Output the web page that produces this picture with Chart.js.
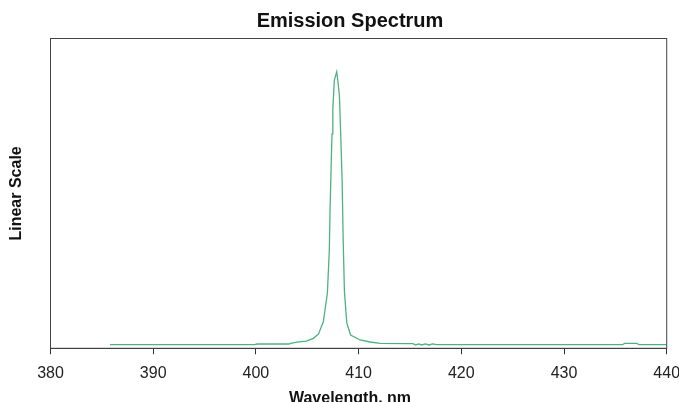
<!DOCTYPE html>
<html>
<head>
<meta charset="utf-8">
<script src="https://cdn.jsdelivr.net/npm/chart.js@4.4.1/dist/chart.umd.min.js"></script>
<style>
  html, body { margin: 0; padding: 0; background: #fff; overflow: hidden; }
  #wrap { width: 700px; height: 408px; }
</style>
</head>
<body>
<div id="wrap"><canvas id="spectrum" width="700" height="408"></canvas></div>
<script>
// wavelength (nm) and intensity
const wavelengths = [
  385.8, 399.9, 400.1, 403.2, 403.4, 404.0, 404.9, 405.6, 406.1, 406.57,
  406.96, 407.15, 407.22, 407.32, 407.41, 407.49, 407.64, 407.87, 407.97, 408.13,
  408.27, 408.4, 408.5, 408.62, 408.85, 409.22, 410.15, 411.12, 412.1, 415.0,
  415.3, 415.55, 415.85, 416.15, 416.5, 416.85, 417.2, 417.6, 435.7, 435.9,
  437.1, 437.3, 440.0
];
const intensities = [
  0.013, 0.013, 0.0155, 0.0155, 0.018, 0.022, 0.026, 0.036, 0.052, 0.097,
  0.200, 0.356, 0.500, 0.650, 0.775, 0.865, 0.970, 1.000, 0.970, 0.915,
  0.760, 0.600, 0.390, 0.205, 0.0915, 0.048, 0.030, 0.0228, 0.018, 0.0166,
  0.0166, 0.012, 0.016, 0.012, 0.016, 0.012, 0.016, 0.013, 0.013, 0.0175,
  0.0175, 0.013, 0.013
];
const xTicks = [380, 390, 400, 410, 420, 430, 440];

const points = wavelengths.map(function (w, i) {
    return { x: w, y: intensities[i] };
});

// box round the plot area
const frame = {
    id: 'frame',
    afterDatasetsDraw: function (chart) {
        const a = chart.chartArea;
        const ctx = chart.ctx;
        ctx.save();
        ctx.strokeStyle = '#444';
        ctx.lineWidth = 1;
        ctx.strokeRect(a.left, a.top, a.right - a.left, a.bottom - a.top);
        ctx.restore();
    }
};

const ctx = document.getElementById('spectrum').getContext('2d');
const chart = new Chart(ctx, {
    type: 'line',
    data: {
        datasets: [{
            data: points,
            borderColor: '#4cb27f',
            borderWidth: 1.3,
            pointRadius: 0,
            tension: 0,
            fill: false
        }]
    },
    options: {
        responsive: false,
        animation: false,
        layout: { padding: 0 },
        plugins: {
            legend: { display: false },
            tooltip: { enabled: false },
            title: {
                display: true,
                text: 'Emission Spectrum',
                color: '#111',
                font: { family: 'Arial, "Liberation Sans"', size: 20, weight: 'bold' },
                padding: { top: 9, bottom: 5.5 }
            },
            subtitle: {
                display: true,
                position: 'bottom',
                text: 'Wavelength, nm',
                color: '#111',
                font: { family: 'Arial, "Liberation Sans"', size: 16, weight: 'bold' },
                padding: { top: 0, bottom: 0 }
            }
        },
        scales: {
            x: {
                type: 'linear',
                min: 380,
                max: 440,
                afterBuildTicks: function (scale) {
                    scale.ticks = xTicks.map(function (v) { return { value: v }; });
                },
                afterFit: function (scale) { scale.height = 40.5; },
                grid: { drawOnChartArea: false, drawTicks: true, tickLength: 6, color: '#333' },
                border: { display: true, color: '#333' },
                ticks: {
                    autoSkip: false,
                    maxRotation: 0,
                    padding: 10,
                    color: '#222',
                    font: { family: 'Arial, "Liberation Sans"', size: 16 }
                }
            },
            y: {
                min: 0,
                max: 1.12,
                afterFit: function (scale) { scale.width = 50.5; },
                grid: { display: false },
                border: { display: true, color: '#333' },
                ticks: { display: false },
                title: {
                    display: true,
                    text: 'Linear Scale',
                    color: '#111',
                    font: { family: 'Arial, "Liberation Sans"', size: 16, weight: 'bold' },
                    padding: { top: 7, bottom: 0 }
                }
            },
            // empty right-hand strip so the titles sit where the reference has them
            yRight: {
                position: 'right',
                min: 0,
                max: 1.12,
                afterFit: function (scale) { scale.width = 33.3; },
                grid: { display: false },
                border: { display: false },
                ticks: { display: false }
            }
        }
    },
    plugins: [frame]
});
</script>
</body>
</html>
